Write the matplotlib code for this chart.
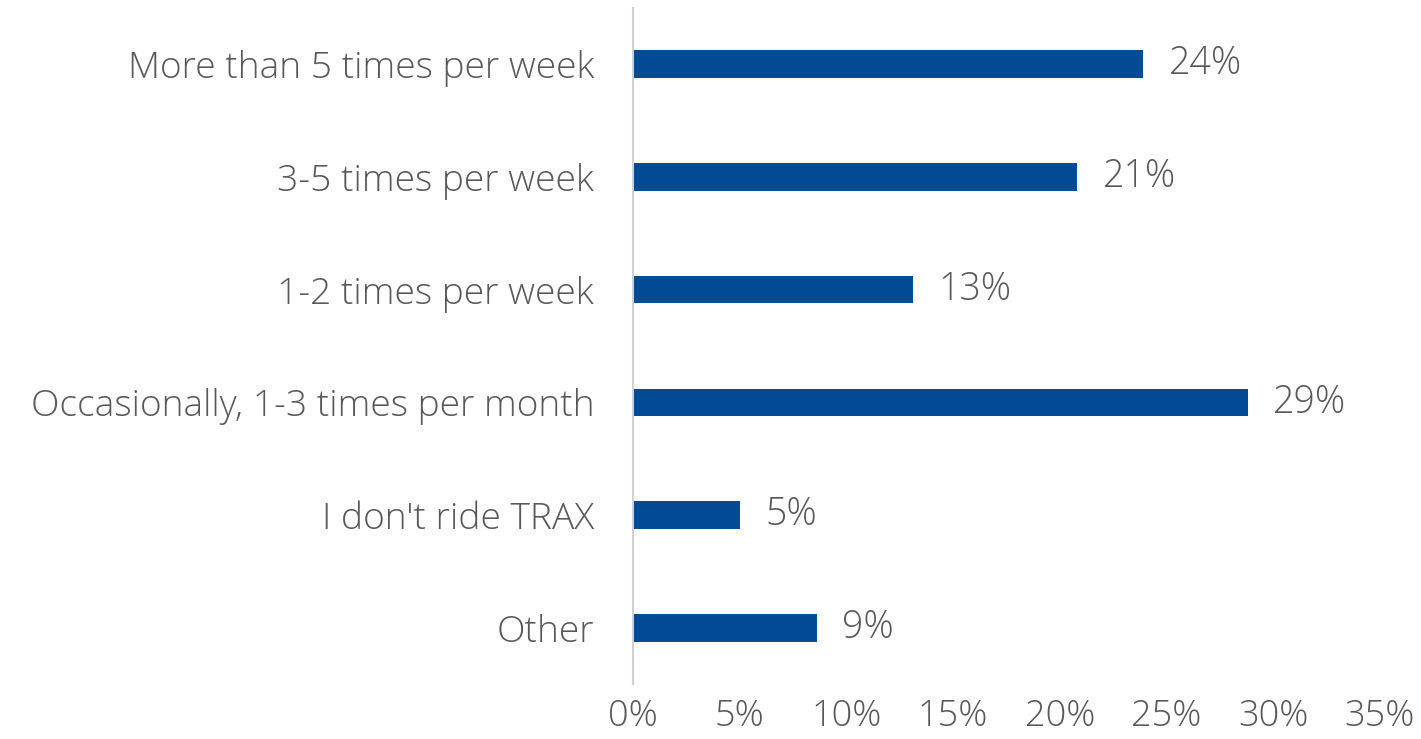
import matplotlib
matplotlib.use("Agg")
import matplotlib.pyplot as plt

categories = ["More than 5 times per week", "3-5 times per week", "1-2 times per week",
              "Occasionally, 1-3 times per month", "I don't ride TRAX", "Other"]
values = [23.9, 20.8, 13.1, 28.8, 5.0, 8.6]
value_labels = ["24%", "21%", "13%", "29%", "5%", "9%"]
xticks = [0, 5, 10, 15, 20, 25, 30, 35]
xtick_labels = ["0%", "5%", "10%", "15%", "20%", "25%", "30%", "35%"]

plt.rcParams['font.family'] = ['Open Sans', 'DejaVu Sans']
text_color = "#595959"
bar_color = "#004B93"
fs = 27
fw = "light"

fig = plt.figure(figsize=(14.21, 7.39), dpi=100)
ax = fig.add_axes([0.4455, 0.0739, 0.9711 - 0.4455, 0.9897 - 0.0739])

ypos = list(range(len(categories)))
ax.barh(ypos, values, height=0.245, color=bar_color)
for y, v, lab in zip(ypos, values, value_labels):
    ax.text(v + 1.2, y, lab, va="center", ha="left", fontsize=fs, color=text_color,
            fontweight=fw)

ax.set_xlim(0, 35)
ax.set_ylim(len(categories) - 0.5, -0.5)
ax.set_yticks(ypos)
ax.set_yticklabels(categories, fontsize=26.7, color=text_color, fontweight=fw)
ax.set_xticks(xticks)
ax.set_xticklabels(xtick_labels, fontsize=26, color=text_color, fontweight=fw)
ax.tick_params(axis="both", length=0)
ax.tick_params(axis="y", pad=28)
ax.tick_params(axis="x", pad=10)
for s in ["top", "right", "bottom"]:
    ax.spines[s].set_visible(False)
ax.spines["left"].set_color("#D0D0D0")
ax.spines["left"].set_linewidth(1.5)

fig.savefig("out.png", dpi=100)
